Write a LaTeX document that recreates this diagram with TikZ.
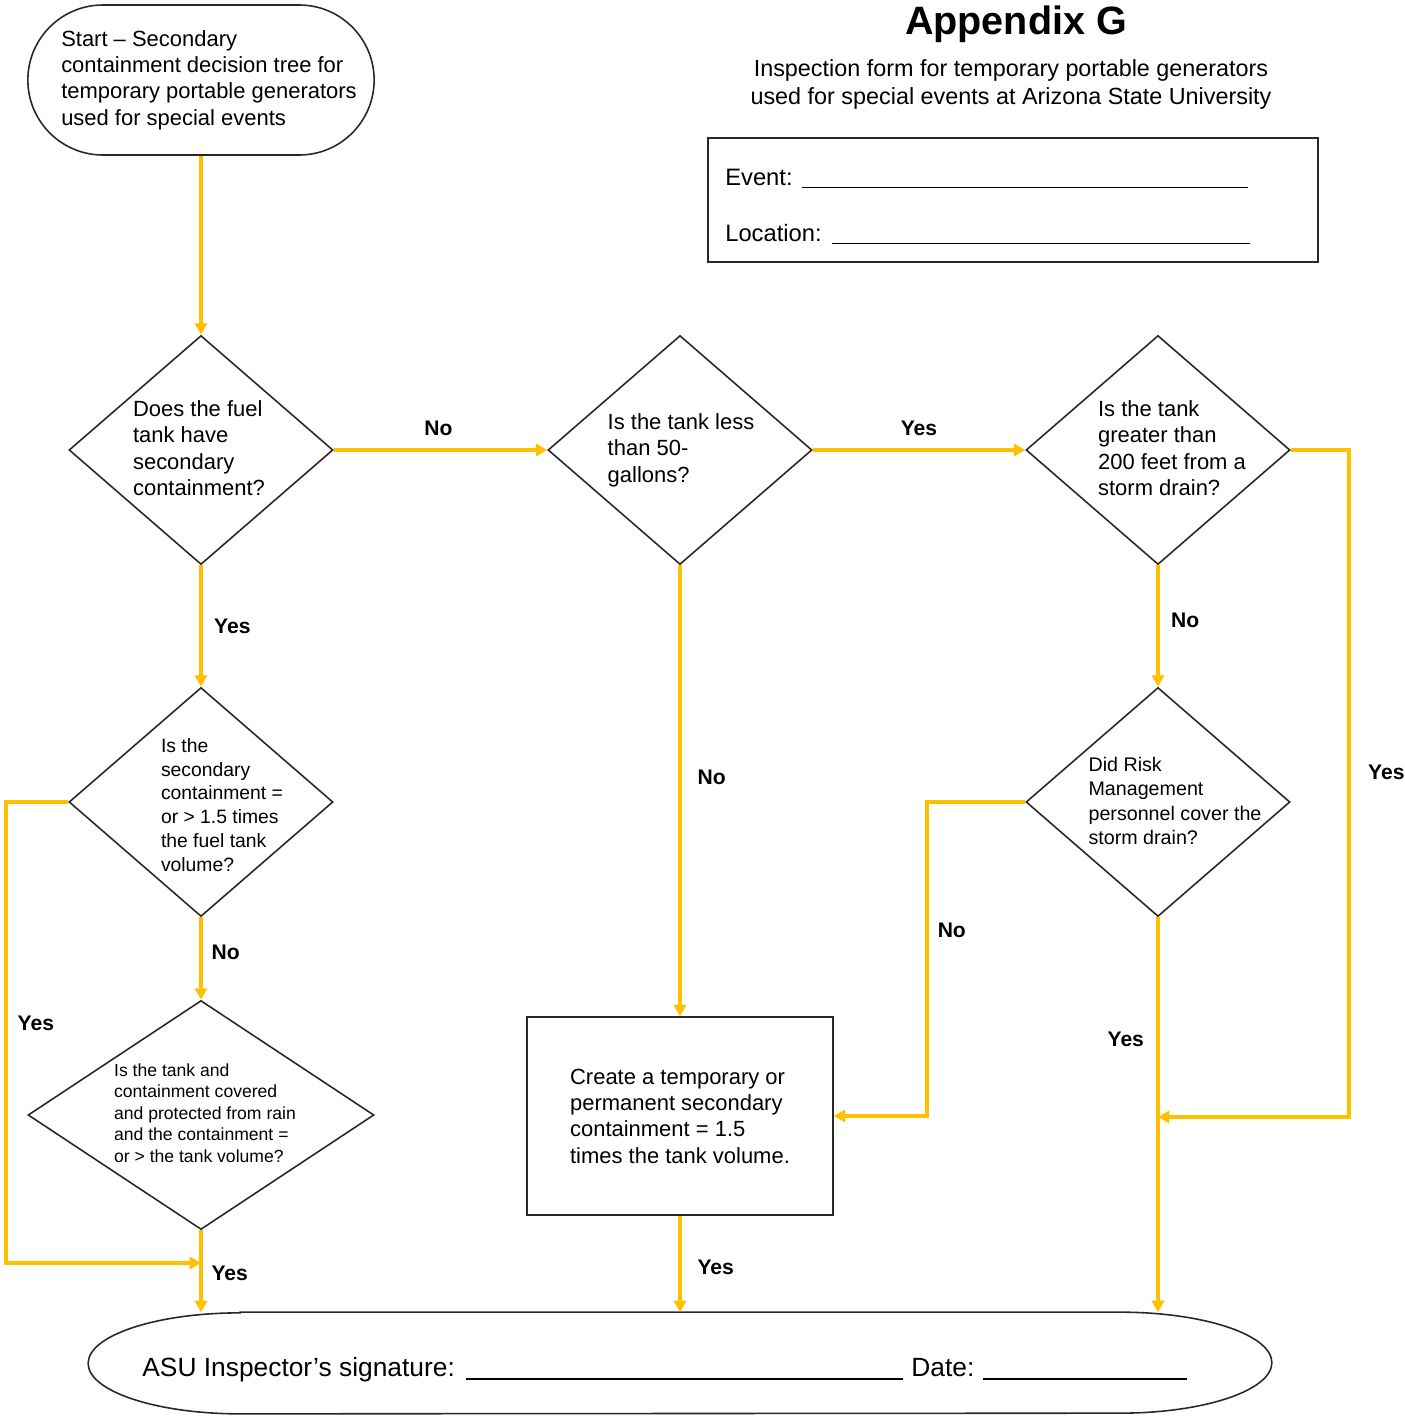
\documentclass[tikz,border=0pt]{standalone}
\usepackage{fontspec}
\setmainfont{Liberation Sans}
\definecolor{asuyellow}{RGB}{255,192,0}
\definecolor{asuline}{RGB}{40,40,40}
\usetikzlibrary{arrows.meta,positioning,shapes.geometric,shapes.misc}

\begin{document}
\begin{tikzpicture}[x=0.2mm,y=-0.2mm,
  decis/.style={draw=asuline,line width=0.9pt,diamond,inner sep=0pt,aspect=1.15,
    minimum width=52.8mm,minimum height=45.8mm},
  qtext/.style={align=left,inner sep=0pt,font=\fontsize{12.5}{15}\selectfont},
  startbox/.style={draw=asuline,line width=0.9pt,rounded rectangle,minimum width=71.6mm,
    minimum height=30mm},
  actbox/.style={draw=asuline,line width=0.9pt,minimum width=61.2mm,minimum height=39.6mm,
    align=left,font=\fontsize{12.5}{15}\selectfont},
  conn/.style={draw=asuyellow,line width=2pt,-{Triangle[length=6.5pt,width=7pt]}},
  lbl/.style={font=\fontsize{12}{14}\selectfont\bfseries,inner sep=3pt}
]
  \useasboundingbox (0,0) rectangle (1405,1416);
  % Heading
  \node[anchor=base,font=\fontsize{22.5}{27}\selectfont\bfseries] (title) at (1016,34) {Appendix G};
  \node[align=center,font=\fontsize{13.3}{15.9}\selectfont] (subtitle) at (1011,84)
    {Inspection form for temporary portable generators\\used for special events at Arizona State University};
  % Event / location box
  \node[draw=asuline,line width=0.9pt,minimum width=122mm,minimum height=24.8mm] (form) at (1013,200) {};
  \node[anchor=base west,inner sep=0pt,font=\fontsize{13.5}{16}\selectfont] (event) at (725,185)
    {\makebox[43.6pt][l]{Event:}\rule[-1.8pt]{254pt}{0.7pt}};
  \node[anchor=base west,inner sep=0pt,font=\fontsize{13.5}{16}\selectfont] (location) at (725,241)
    {\makebox[60.7pt][l]{Location:}\rule[-1.8pt]{238pt}{0.7pt}};
  % Start
  \node[startbox] (start) at (201,80) {};
  \node[qtext] (starttxt) at (209,80) {Start -- Secondary\\containment decision tree for\\temporary portable generators\\used for special events};
  % Secondary containment?
  \node[decis] (q1) at (201,450) {};
  \node[qtext] (q1txt) at (199,448) {Does the fuel\\tank have\\secondary\\containment?};
  % Less than 50 gallons?
  \node[decis] (q2) at (680,450) {};
  \node[qtext] (q2txt) at (681,450) {Is the tank less\\than 50-\\gallons?};
  % 200 feet from storm drain?
  \node[decis] (q3) at (1158,450) {};
  \node[qtext] (q3txt) at (1172,448) {Is the tank\\greater than\\200 feet from a\\storm drain?};
  % 1.5 times volume?
  \node[decis] (q4) at (201,802) {};
  \node[qtext,font=\fontsize{11}{13.6}\selectfont] (q4txt) at (222,805)
    {Is the\\secondary\\containment =\\or > 1.5 times\\the fuel tank\\volume?};
  % Covered from rain?
  \node[decis,aspect=1.51,minimum width=69.2mm] (q5) at (201,1115) {};
  \node[qtext,font=\fontsize{10}{12.2}\selectfont] (q5txt) at (205,1113)
    {Is the tank and\\containment covered\\and protected from rain\\and the containment =\\or > the tank volume?};
  % Storm drain covered?
  \node[decis] (q6) at (1158,802) {};
  \node[qtext,font=\fontsize{11.2}{13.9}\selectfont] (q6txt) at (1175,801)
    {Did Risk\\Management\\personnel cover the\\storm drain?};
  % Action
  \node[actbox] (act) at (680,1116) {Create a temporary or\\permanent secondary\\containment = 1.5\\times the tank volume.};
  % Signature
  \node[minimum width=236.6mm,minimum height=20.2mm,inner sep=0pt] (sign) at (680,1363) {};
  \draw[asuline,line width=0.9pt] ([xshift=30.4mm]sign.north west) -- ([xshift=-30.4mm]sign.north east)
    arc[start angle=90,end angle=-90,x radius=30.4mm,y radius=10.1mm]
    -- ([xshift=30.4mm]sign.south west)
    arc[start angle=270,end angle=90,x radius=30.4mm,y radius=10.1mm] -- cycle;
  \node[anchor=base west,inner sep=0pt,font=\fontsize{15}{18}\selectfont] (signtxt) at (142,1376)
    {\makebox[184.2pt][l]{ASU Inspector’s signature:}\rule[-2pt]{248.9pt}{0.7pt}\hspace{4.5pt}\makebox[40.8pt][l]{Date:}\rule[-2pt]{116.2pt}{0.7pt}};
  % Merge points
  \coordinate (lmerge) at (201,1263);
  \coordinate (rmerge) at (1158,1117);
  % Connectors
  \draw[conn] (start) -- (q1);
  \draw[conn] (q1) -- node[lbl,above=4pt,pos=0.49] {No} (q2);
  \draw[conn] (q2) -- node[lbl,above=4pt] {Yes} (q3);
  \draw[conn] (q1) -- node[lbl,right=3.5pt] {Yes} (q4);
  \draw[conn] (q4) -- node[lbl,right=2pt,pos=0.42] {No} (q5);
  \draw[conn] (q4.west) -- ++(-62,0) |- node[lbl,right=2.5pt,pos=0.24] {Yes} (lmerge);
  \draw[conn] (q5) -- node[lbl,right=2pt,pos=0.52] {Yes} (q5 |- sign.north);
  \draw[conn] (q2) -- node[lbl,right=6pt,pos=0.47] {No} (act);
  \draw[conn] (act) -- node[lbl,right=6pt,pos=0.54] {Yes} (sign);
  \draw[conn] (q3) -- node[lbl,right=3.5pt,pos=0.45] {No} (q6);
  \draw[conn] (q3.east) -- ++(58,0) |- node[lbl,right=7pt,pos=0.242] {Yes} (rmerge);
  \draw[conn] (q6.west) -- ++(-98,0) |- node[lbl,right=2pt,pos=0.205] {No} (act.east);
  \draw[conn] (q6) -- node[lbl,left=4pt,pos=0.31] {Yes} (q6 |- sign.north);
\end{tikzpicture}
\end{document}
